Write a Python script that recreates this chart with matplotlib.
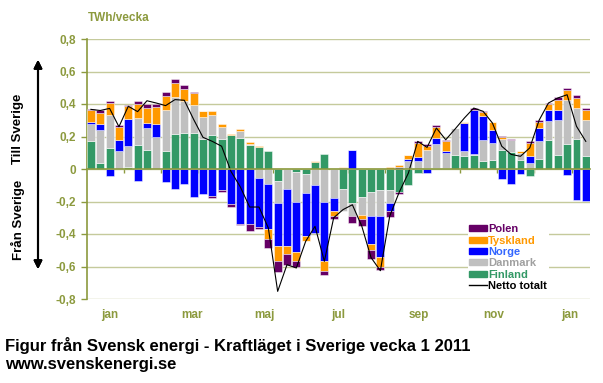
import matplotlib
matplotlib.use('Agg')
import matplotlib.pyplot as plt
import numpy as np
from matplotlib.patches import Patch
from matplotlib.lines import Line2D

plt.rcParams['font.family'] = ['Liberation Sans', 'DejaVu Sans']

# weekly exchange, TWh/vecka (positive = import till Sverige)
finland = [0.17, 0.037, 0.131, 0.0, 0.01, 0.15, 0.119, 0.0, 0.111, 0.215,
           0.224, 0.224, 0.187, 0.211, 0.183, 0.211, 0.191, 0.15, 0.135, 0.113,
           -0.076, 0.0, -0.02, -0.029, 0.043, 0.092, 0.0, -0.121, -0.209, -0.17,
           -0.142, -0.127, -0.131, -0.14, -0.096, -0.025, 0.006, 0.006, 0.005, 0.088,
           0.078, 0.088, 0.047, 0.057, 0.119, 0.105, 0.057, -0.045, 0.064, 0.18,
           0.088, 0.156, 0.187, 0.082]
danmark = [0.107, 0.203, 0.203, 0.109, 0.132, 0.164, 0.133, 0.197, 0.254, 0.228,
           0.192, 0.172, 0.131, 0.123, 0.077, 0.0, 0.045, 0.004, -0.055, -0.09,
           -0.134, -0.123, -0.18, -0.119, -0.096, -0.205, -0.178, -0.139, -0.082, -0.111,
           -0.149, -0.164, -0.078, 0.0, 0.05, 0.047, 0.109, 0.15, 0.093, 0.164,
           0.031, 0.005, 0.133, 0.1, 0.068, 0.075, 0.041, 0.037, 0.106, 0.113,
           0.216, 0.271, 0.188, 0.222]
norge = [0.014, 0.037, -0.045, 0.072, 0.164, -0.076, 0.031, 0.08, -0.078, -0.123,
         -0.092, -0.172, -0.154, -0.168, -0.131, -0.217, -0.336, -0.338, -0.302, -0.28,
         -0.262, -0.349, -0.313, -0.266, -0.298, -0.359, -0.082, 0.006, 0.115, 0.0,
         -0.171, -0.253, -0.047, 0.01, 0.014, 0.027, -0.025, 0.035, 0.011, 0.0,
         0.174, 0.272, 0.144, 0.086, -0.06, -0.092, -0.031, 0.041, 0.082, 0.072,
         0.061, -0.035, -0.189, -0.197]
tyskland = [0.07, 0.068, 0.072, 0.076, 0.08, 0.086, 0.092, 0.103, 0.086, 0.088,
            0.076, 0.07, 0.037, 0.025, 0.015, 0.004, 0.012, 0.01, 0.009, -0.06,
            -0.096, -0.051, -0.051, -0.026, 0.006, -0.066, -0.027, 0.006, 0.0, -0.025,
            -0.034, -0.057, 0.012, 0.015, 0.024, 0.086, 0.029, 0.065, 0.061, 0.0,
            0.008, 0.0, 0.025, 0.046, 0.012, 0.0, 0.015, 0.082, 0.035, 0.035,
            0.062, 0.057, 0.062, 0.061]
polen = [0.008, 0.016, 0.014, 0.011, 0.008, 0.02, 0.023, 0.02, 0.021, 0.023,
         0.025, 0.01, 0.005, -0.012, -0.009, -0.015, -0.009, -0.046, -0.01, -0.056,
         -0.068, -0.066, -0.041, -0.005, 0.0, -0.024, -0.021, 0.0, -0.041, -0.047,
         -0.058, -0.021, -0.039, -0.015, 0.0, 0.014, 0.01, 0.013, 0.01, 0.0,
         0.0, 0.01, 0.006, 0.0, 0.004, 0.007, 0.0, 0.012, 0.017, 0.006,
         0.014, 0.014, 0.02, 0.008]
netto = [0.367, 0.36, 0.373, 0.26, 0.386, 0.353, 0.42, 0.406, 0.39, 0.427,
         0.423, 0.305, 0.195, 0.17, 0.14, -0.015, -0.11, -0.234, -0.234, -0.363,
         -0.753, -0.589, -0.609, -0.445, -0.353, -0.568, -0.3, -0.25, -0.22, -0.35,
         -0.545, -0.626, -0.29, -0.145, -0.025, 0.17, 0.133, 0.252, 0.18, 0.246,
         0.314, 0.375, 0.355, 0.283, 0.14, 0.09, 0.078, 0.13, 0.30, 0.406,
         0.437, 0.457, 0.263, 0.17]

months = ['jan', 'mar', 'maj', 'jul', 'sep', 'nov', 'jan']
month_pos = [2.0, 10.8, 18.6, 26.5, 35.1, 43.1, 51.3]
yticks = [-0.8, -0.6, -0.4, -0.2, 0, 0.2, 0.4, 0.6, 0.8]
ylabels = ['-0,8', '-0,6', '-0,4', '-0,2', '0', '0,2', '0,4', '0,6', '0,8']

series = [('Finland', finland, '#339966'),
          ('Danmark', danmark, '#c0c0c0'),
          ('Norge', norge, '#0000ff'),
          ('Tyskland', tyskland, '#ff9900'),
          ('Polen', polen, '#660066')]

olive = '#8c9a3e'
grid_c = '#c5ca9c'

fig = plt.figure(figsize=(6.03, 3.83), dpi=100)
ax = fig.add_axes([87 / 603, 84 / 383, 503 / 603, 260 / 383])

x = np.arange(len(netto))
pos = np.zeros(len(x))
neg = np.zeros(len(x))
for name, vals, col in series:
    v = np.array(vals)
    bottom = np.where(v >= 0, pos, neg)
    ax.bar(x, v, width=0.84, bottom=bottom, color=col,
           edgecolor=(1, 1, 1, 0.55), linewidth=0.6, zorder=3)
    pos = pos + np.where(v >= 0, v, 0)
    neg = neg + np.where(v < 0, v, 0)

ax.plot(x, netto, color='black', linewidth=0.8, zorder=4)

ax.set_xlim(-0.42, 53.45)
ax.set_ylim(-0.8, 0.8)
ax.set_yticks(yticks)
ax.set_yticklabels(ylabels)
for t in ax.get_yticklabels():
    t.set_color(olive)
    t.set_fontweight('bold')
    t.set_fontsize(8.5)
ax.tick_params(axis='y', direction='out', length=4, color=olive, width=1, pad=4)
ax.yaxis.grid(True, color=grid_c, linewidth=1, zorder=0)
ax.set_axisbelow(True)

# zero line acts as x axis
ax.spines['bottom'].set_position(('data', 0))
ax.spines['bottom'].set_color(olive)
ax.spines['bottom'].set_linewidth(1.2)
ax.spines['bottom'].set_zorder(5)
ax.spines['left'].set_color(olive)
ax.spines['left'].set_linewidth(1.2)
ax.spines['top'].set_visible(False)
ax.spines['right'].set_visible(False)
ax.set_xticks(np.arange(3.5, 53, 4))
ax.set_xticklabels([])
ax.tick_params(axis='x', direction='out', length=3, color=olive, width=1)

for lab, p in zip(months, month_pos):
    ax.text(p, -0.06, lab, transform=ax.get_xaxis_transform(), ha='center',
            va='center', color=olive, fontsize=8.5, fontweight='bold')

fig.text(88 / 603, 1 - 18 / 383, 'TWh/vecka', color=olive, fontsize=8.5,
         fontweight='bold', ha='left', va='center')

# arrow and direction labels
fig.add_artist(plt.annotate('', xy=(38 / 603, 1 - 272 / 383), xytext=(38 / 603, 1 - 57 / 383),
                            xycoords='figure fraction', textcoords='figure fraction',
                            arrowprops=dict(arrowstyle='<|-|>', color='black', lw=1.5,
                                            mutation_scale=12)))
fig.text(18 / 603, 1 - 129 / 383, 'Till Sverige', rotation=90, ha='center',
         va='center', fontsize=9.5, fontweight='bold')
fig.text(18 / 603, 1 - 220 / 383, 'Från Sverige', rotation=90, ha='center',
         va='center', fontsize=9.5, fontweight='bold')

# legend
handles = [Patch(color='#660066'), Patch(color='#ff9900'), Patch(color='#0000ff'),
           Patch(color='#c0c0c0'), Patch(color='#339966'),
           Line2D([], [], color='black', linewidth=1)]
labels = ['Polen', 'Tyskland', 'Norge', 'Danmark', 'Finland', 'Netto totalt']
leg = fig.legend(handles, labels, loc='upper left',
                 bbox_to_anchor=(462 / 603, 1 - 217 / 383), frameon=True,
                 facecolor='white', edgecolor='none', framealpha=1,
                 fontsize=8, handlelength=1.6, handleheight=0.45,
                 handletextpad=0.1, labelspacing=0.12, borderpad=0.15,
                 labelcolor=['#660066', '#ff9900', '#3366ff', '#a0a0a0', '#339966', 'black'])
for t in leg.get_texts():
    t.set_fontweight('bold')
leg.set_zorder(10)

fig.text(5 / 603, 1 - 345 / 383, 'Figur från Svensk energi - Kraftläget i Sverige vecka 1 2011',
         fontsize=12, fontweight='bold', ha='left', va='center')
fig.text(5 / 603, 1 - 364 / 383, 'www.svenskenergi.se',
         fontsize=12, fontweight='bold', ha='left', va='center')

fig.savefig('out.png', dpi=100)
